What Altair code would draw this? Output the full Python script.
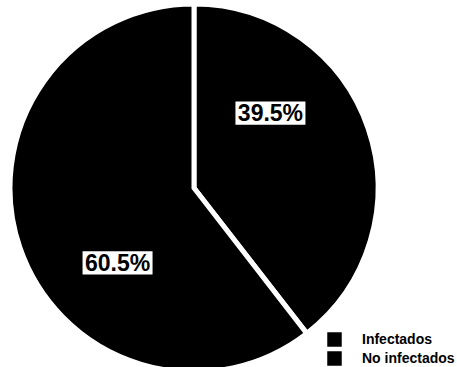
import math
import altair as alt
import pandas as pd

# Chart values
categories = ["Infectados", "No infectados"]
percentages = [39.5, 60.5]
label_texts = ["39.5%", "60.5%"]
stack_order = [0, 1]

df = pd.DataFrame({
    "grupo": categories,
    "porcentaje": percentages,
    "etiqueta": label_texts,
    "orden": stack_order,
})

# Plot area (the pie sits at its centre)
W, H = 388, 358
OUTER_R = 184          # white stroke trims 2.5px off the visible edge
LABEL_R = 107          # distance of the value boxes from the centre
LABEL_SHIFT = math.radians(-25.5)  # boxes sit a little counter-clockwise of mid-slice

base = alt.Chart(df)

pie = base.mark_arc(outerRadius=OUTER_R, stroke="white", strokeWidth=5).encode(
    theta=alt.Theta("porcentaje:Q", stack=True),
    order=alt.Order("orden:Q"),
    color=alt.Color(
        "grupo:N",
        scale=alt.Scale(domain=categories, range=["#000000", "#000000"]),
        legend=alt.Legend(
            title=None,
            orient="none",
            legendX=327,
            legendY=323,
            symbolType="square",
            symbolSize=210,
            symbolStrokeWidth=0,
            labelFont="Liberation Sans",
            labelFontSize=14,
            labelFontWeight="bold",
            labelColor="#000000",
            labelOffset=20,
            rowPadding=4,
        ),
    ),
)

# Label anchor points derived from the cumulative share of each slice
positions = base.transform_joinaggregate(
    total="sum(porcentaje)"
).transform_window(
    acum="sum(porcentaje)", sort=[alt.SortField("orden")], frame=[None, 0]
).transform_calculate(
    ang=f"(datum.acum - datum.porcentaje / 2) / datum.total * 2 * PI + ({LABEL_SHIFT})",
    px=f"{LABEL_R} * sin(datum.ang)",
    py=f"{LABEL_R} * cos(datum.ang)",
)

x_enc = alt.X("px:Q", scale=alt.Scale(domain=[-W / 2, W / 2], nice=False, zero=False), axis=None)
y_enc = alt.Y("py:Q", scale=alt.Scale(domain=[-H / 2, H / 2], nice=False, zero=False), axis=None)

boxes = positions.mark_point(
    shape="M-1,-0.33H1V0.33H-1Z",
    size=4900,
    filled=True,
    color="white",
    opacity=1,
    strokeWidth=0,
).encode(x=x_enc, y=y_enc)

texts = positions.mark_text(
    font="Liberation Sans",
    fontWeight="bold",
    fontSize=23,
    color="black",
    baseline="middle",
    align="center",
    dy=1,
).encode(x=x_enc, y=y_enc, text="etiqueta:N")

chart = alt.layer(pie, boxes, texts).properties(
    width=W,
    height=H,
    autosize="none",
    padding={"left": 0, "top": 9, "right": 69, "bottom": 0},
    background="white",
).configure_view(
    stroke=None
).configure_legend(
    symbolSize=210,
    symbolType="square",
    labelFontSize=14,
    labelFont="Liberation Sans",
    labelFontWeight="bold",
)

chart.save("out.html", embed_options={"renderer": "svg", "actions": False})
